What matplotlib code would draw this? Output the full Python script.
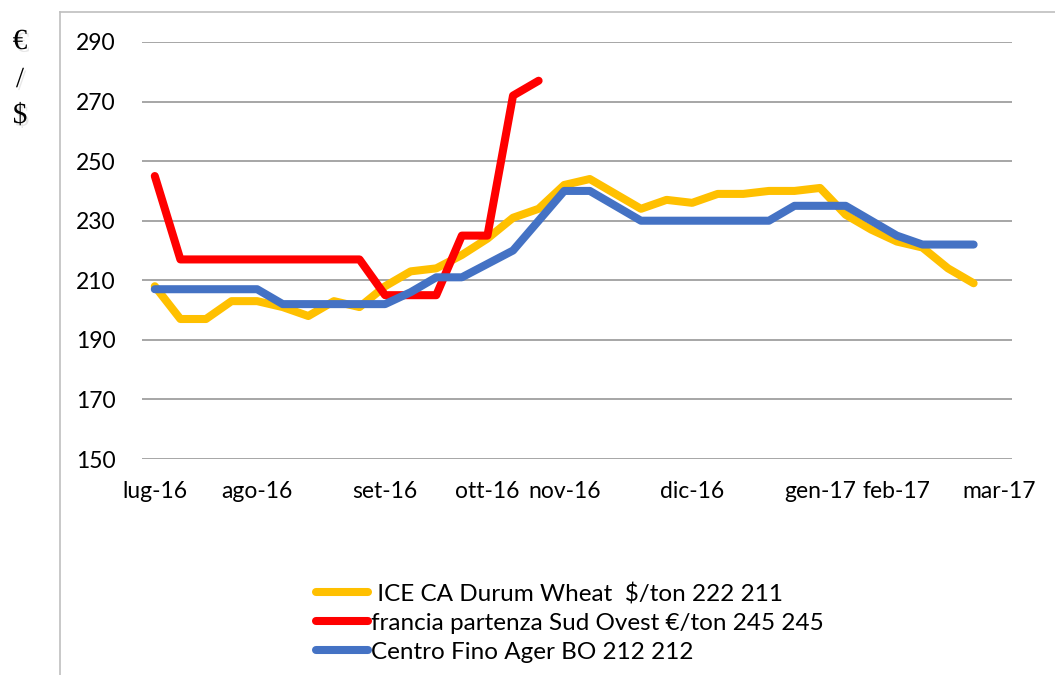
import numpy as np
import matplotlib
matplotlib.use("Agg")
import matplotlib.pyplot as plt
import matplotlib.patheffects as pe
from matplotlib.lines import Line2D

plt.rcParams['font.family'] = ['Lato', 'DejaVu Sans']

# weekly series, one value per category (34 slots, last is empty)
ice_durum = [208, 197, 197, 203, 203, 201, 198, 203, 201, 208, 213, 214,
             218.5, 224, 231, 234, 242, 244, 239, 234, 237, 236, 239, 239,
             240, 240, 241, 232, 227, 223, 221, 214, 209]
francia_so = [245, 217, 217, 217, 217, 217, 217, 217, 217, 205, 205, 205,
              225, 225, 272, 277] + [np.nan] * 17
centro_bo = [207, 207, 207, 207, 207, 202, 202, 202, 202, 202, 206, 211,
             211, 215.5, 220, 230, 240, 240, 235, 230, 230, 230, 230, 230,
             230, 235, 235, 235, 230, 225, 222, 222, 222]

month_pos = [0, 4, 9, 13, 16, 21, 26, 29, 33]
month_labels = ['lug-16', 'ago-16', 'set-16', 'ott-16', 'nov-16',
                'dic-16', 'gen-17', 'feb-17', 'mar-17']

series_names = [' ICE CA Durum Wheat  $/ton 222 211',
                'francia partenza Sud Ovest €/ton 245 245',
                'Centro Fino Ager BO 212 212']
colors = ['#FFC000', '#FF0000', '#4472C4']

x = np.arange(len(ice_durum))

fig = plt.figure(figsize=(10.55, 6.75), dpi=100)
ax = fig.add_axes([142/1055, 1-459/675, 870/1055, 417/675])

handles = []
for vals, c, name in zip([ice_durum, francia_so, centro_bo], colors, series_names):
    h, = ax.plot(x, vals, color=c, lw=5.8, solid_capstyle='round',
                 solid_joinstyle='round', label=name)
    handles.append(h)

ax.set_xlim(-0.5, 33.5)
ax.set_ylim(150, 290)
ax.set_yticks(range(150, 291, 20))
ax.set_xticks(month_pos)
ax.set_xticklabels(month_labels)
ax.tick_params(length=0, labelsize=16.5, pad=16, colors='black')
ax.tick_params(axis='y', pad=19)
for s in ax.spines.values():
    s.set_visible(False)
ax.yaxis.grid(True, color='#A6A6A6', lw=1.4)
ax.set_axisbelow(True)

# outer frame bits
fig.add_artist(Line2D([60/1055, 60/1055], [0, 1-12/675], transform=fig.transFigure,
                      color='#BFBFBF', lw=1.2))
fig.add_artist(Line2D([60/1055, 1], [1-12/675, 1-12/675], transform=fig.transFigure,
                      color='#BFBFBF', lw=1.2))

shadow = [pe.SimplePatchShadow(offset=(1.5, -2), shadow_rgbFace='#BBBBBB', alpha=0.35),
          pe.Normal()]
for txt, yy in zip(['€', '/', '$'], [42, 80, 116]):
    fig.text(20/1055, 1-yy/675, txt, family='Liberation Serif', fontsize=21,
             ha='center', va='center', path_effects=shadow)

fig.legend(handles=handles, loc='upper left', bbox_to_anchor=(316/1055, 1-583/675),
           frameon=False, fontsize=17.5, handlelength=2.15, handletextpad=0.1,
           labelspacing=0.32, borderaxespad=0, borderpad=0)

fig.savefig('out.png', dpi=100)
